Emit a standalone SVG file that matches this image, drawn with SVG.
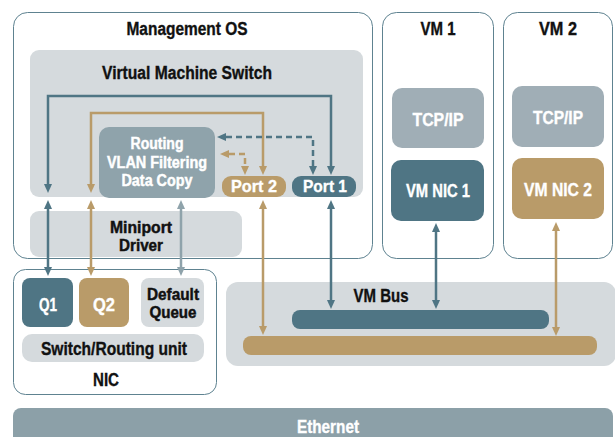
<svg xmlns="http://www.w3.org/2000/svg" width="615" height="437" viewBox="0 0 615 437">
  <defs>
    <style>
      .frame { fill: #ffffff; stroke: #5e8290; stroke-width: 1; }
      .panel { fill: #d5dadd; }
      .blue { fill: #4f7584; }
      .tan { fill: #b99b69; }
      .slate { fill: #8fa3ab; }
      .stack { fill: #a0aeb6; }
      .eth { fill: #8ca0a8; }
      text { font-family: "Liberation Sans", Arial, sans-serif; font-weight: bold; font-size: 18px; text-anchor: middle; stroke-width: 0.35; }
      .multi { font-size: 16px; stroke-width: 0.45; }
      .dark { fill: #111111; stroke: #111111; }
      .light { fill: #ffffff; stroke: #ffffff; }
      .ln { fill: none; stroke-width: 2.5; }
      .lb { stroke: #4f7584; }
      .lt { stroke: #b99b69; }
      .lg { stroke: #8fa3ab; }
      .dash { stroke-dasharray: 6 4; }
    </style>
    <marker id="ahB" markerUnits="userSpaceOnUse" markerWidth="10" markerHeight="8" refX="0" refY="4" orient="auto-start-reverse">
      <path d="M0,0 L9,4 L0,8 z" fill="#4f7584"/>
    </marker>
    <marker id="ahT" markerUnits="userSpaceOnUse" markerWidth="10" markerHeight="8" refX="0" refY="4" orient="auto-start-reverse">
      <path d="M0,0 L9,4 L0,8 z" fill="#b99b69"/>
    </marker>
    <marker id="ahG" markerUnits="userSpaceOnUse" markerWidth="10" markerHeight="8" refX="0" refY="4" orient="auto-start-reverse">
      <path d="M0,0 L9,4 L0,8 z" fill="#8fa3ab"/>
    </marker>
  </defs>

  <!-- Management OS host partition -->
  <g id="management-os">
    <rect class="frame" x="13.5" y="12.5" width="359" height="246" rx="14"/>
    <text class="dark" x="187" y="35" textLength="121" lengthAdjust="spacingAndGlyphs">Management OS</text>
  </g>

  <g id="vm-switch">
    <rect class="panel" x="30" y="50" width="333" height="147" rx="9"/>
    <text class="dark" x="187" y="79" textLength="170" lengthAdjust="spacingAndGlyphs">Virtual Machine Switch</text>
  </g>

  <g id="routing">
    <rect class="slate" x="99" y="127" width="116" height="71" rx="10"/>
    <text class="light multi" x="157" y="149" textLength="53" lengthAdjust="spacingAndGlyphs">Routing</text>
    <text class="light multi" x="157" y="168" textLength="100" lengthAdjust="spacingAndGlyphs">VLAN Filtering</text>
    <text class="light multi" x="157" y="186" textLength="71" lengthAdjust="spacingAndGlyphs">Data Copy</text>
  </g>

  <g id="port-2">
    <rect class="tan" x="222" y="176" width="64" height="21" rx="9"/>
    <text class="light" x="254" y="192" style="font-size:17px" textLength="46" lengthAdjust="spacingAndGlyphs">Port 2</text>
  </g>

  <g id="port-1">
    <rect class="blue" x="292" y="176" width="64" height="21" rx="9"/>
    <text class="light" x="325" y="192" style="font-size:17px" textLength="44" lengthAdjust="spacingAndGlyphs">Port 1</text>
  </g>

  <g id="miniport-driver">
    <rect class="panel" x="30" y="211" width="212" height="46" rx="9"/>
    <text class="dark multi" x="141" y="233" textLength="62" lengthAdjust="spacingAndGlyphs">Miniport</text>
    <text class="dark multi" x="141" y="251" textLength="44" lengthAdjust="spacingAndGlyphs">Driver</text>
  </g>

  <!-- Guest partitions -->
  <g id="vm-1">
    <rect class="frame" x="382.5" y="12.5" width="111" height="246" rx="14"/>
    <text class="dark" x="438" y="35" textLength="35" lengthAdjust="spacingAndGlyphs">VM 1</text>
  </g>
  <g id="vm1-tcpip">
    <rect class="stack" x="392" y="88" width="92" height="60" rx="10"/>
    <text class="light" x="438" y="126" textLength="51" lengthAdjust="spacingAndGlyphs">TCP/IP</text>
  </g>
  <g id="vm-nic-1">
    <rect class="blue" x="391" y="160" width="93" height="61" rx="10"/>
    <text class="light" x="438" y="197" textLength="64" lengthAdjust="spacingAndGlyphs">VM NIC 1</text>
  </g>

  <g id="vm-2">
    <rect class="frame" x="503.5" y="12.5" width="109" height="246" rx="14"/>
    <text class="dark" x="558" y="35" textLength="38" lengthAdjust="spacingAndGlyphs">VM 2</text>
  </g>
  <g id="vm2-tcpip">
    <rect class="stack" x="512" y="86" width="92" height="61" rx="10"/>
    <text class="light" x="558" y="124" textLength="50" lengthAdjust="spacingAndGlyphs">TCP/IP</text>
  </g>
  <g id="vm-nic-2">
    <rect class="tan" x="512" y="158" width="92" height="61" rx="10"/>
    <text class="light" x="558" y="196" textLength="68" lengthAdjust="spacingAndGlyphs">VM NIC 2</text>
  </g>

  <!-- Physical adapter -->
  <g id="nic">
    <rect class="frame" x="13.5" y="269.5" width="203" height="125" rx="12"/>
    <text class="dark" x="106" y="386" textLength="26" lengthAdjust="spacingAndGlyphs">NIC</text>
  </g>
  <g id="q1">
    <rect class="blue" x="22" y="278" width="51" height="49" rx="8"/>
    <text class="light" x="48" y="311" textLength="18" lengthAdjust="spacingAndGlyphs">Q1</text>
  </g>
  <g id="q2">
    <rect class="tan" x="79" y="278" width="50" height="49" rx="8"/>
    <text class="light" x="104" y="311" textLength="22" lengthAdjust="spacingAndGlyphs">Q2</text>
  </g>
  <g id="default-queue">
    <rect class="panel" x="141" y="278" width="63" height="49" rx="8"/>
    <text class="dark multi" x="173" y="300" textLength="52" lengthAdjust="spacingAndGlyphs">Default</text>
    <text class="dark multi" x="173" y="318" textLength="47" lengthAdjust="spacingAndGlyphs">Queue</text>
  </g>
  <g id="switch-routing-unit">
    <rect class="panel" x="22" y="334" width="182" height="28" rx="10"/>
    <text class="dark" x="114" y="355" textLength="146" lengthAdjust="spacingAndGlyphs">Switch/Routing unit</text>
  </g>

  <!-- VM bus channels -->
  <g id="vm-bus">
    <rect class="panel" x="226" y="282" width="390" height="84" rx="12"/>
    <text class="dark" x="381" y="302" textLength="55" lengthAdjust="spacingAndGlyphs">VM Bus</text>
  </g>
  <g id="vm-bus-channel-1">
    <rect class="blue" x="292" y="310" width="257" height="19" rx="8"/>
  </g>
  <g id="vm-bus-channel-2">
    <rect class="tan" x="243" y="336" width="354" height="19" rx="8"/>
  </g>

  <g id="ethernet">
    <rect class="eth" x="13" y="408" width="600" height="40" rx="8"/>
    <text class="light" x="328" y="433" textLength="62" lengthAdjust="spacingAndGlyphs">Ethernet</text>
  </g>

  <!-- Connectors -->
  <g id="connectors">
    <path class="ln lb" d="M48,184 V96 H331 V166" marker-start="url(#ahB)" marker-end="url(#ahB)"/>
    <path class="ln lt" d="M91,184 V113 H263 V166" marker-start="url(#ahT)" marker-end="url(#ahT)"/>
    <path class="ln lb dash" d="M226,137 H313 V166" marker-start="url(#ahB)" marker-end="url(#ahB)"/>
    <path class="ln lt dash" d="M229,154 H245 V166" marker-start="url(#ahT)" marker-end="url(#ahT)"/>

    <path class="ln lb" d="M48,209 V267" marker-start="url(#ahB)" marker-end="url(#ahB)"/>
    <path class="ln lt" d="M91,209 V267" marker-start="url(#ahT)" marker-end="url(#ahT)"/>
    <path class="ln lg" d="M181,209 V267" marker-start="url(#ahG)" marker-end="url(#ahG)"/>
    <path class="ln lt" d="M263,209 V326" marker-start="url(#ahT)" marker-end="url(#ahT)"/>
    <path class="ln lb" d="M331,209 V300" marker-start="url(#ahB)" marker-end="url(#ahB)"/>

    <path class="ln lb" d="M436,232 V300" marker-start="url(#ahB)" marker-end="url(#ahB)"/>
    <path class="ln lt" d="M556,231 V327" marker-start="url(#ahT)" marker-end="url(#ahT)"/>
  </g>
</svg>
